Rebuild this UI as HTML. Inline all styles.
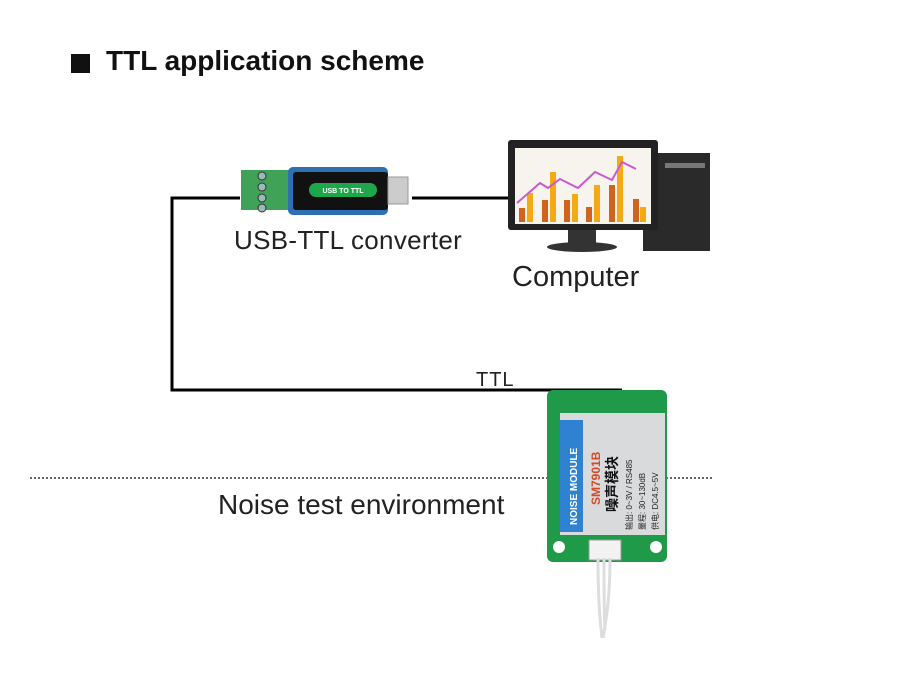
<!DOCTYPE html>
<html><head><meta charset="utf-8"><style>
body{margin:0;width:900px;height:673px;background:#fff;position:relative;overflow:hidden;font-family:"Liberation Sans","Noto Sans CJK SC",sans-serif}
.t{position:absolute;white-space:nowrap;color:#111}
</style></head><body>
<div style="position:absolute;left:71px;top:54px;width:19px;height:19px;background:#111"></div>
<div class="t" style="left:106px;top:45px;font-size:28px;font-weight:bold">TTL application scheme</div>
<svg width="900" height="673" style="position:absolute;left:0;top:0">
<g stroke="#000" stroke-width="3" fill="none">
<polyline points="240,198 172,198 172,390 622,390"/>
<line x1="412" y1="198" x2="510" y2="198"/>
</g>
<line x1="30" y1="478" x2="712" y2="478" stroke="#333" stroke-width="1.5" stroke-dasharray="2,2"/>
<rect x="241" y="170" width="48" height="40" fill="#3fa257"/>
<g fill="#9bb" stroke="#333" stroke-width="1"><circle cx="262" cy="176" r="4"/><circle cx="262" cy="187" r="4"/><circle cx="262" cy="198" r="4"/><circle cx="262" cy="208" r="4"/></g>
<rect x="288" y="167" width="100" height="48" rx="5" fill="#2f6fb3"/>
<rect x="293" y="172" width="95" height="38" rx="3" fill="#111"/>
<rect x="309" y="183" width="68" height="14" rx="7" fill="#1ea64a"/>
<text x="343" y="193" font-size="7" fill="#fff" text-anchor="middle" font-weight="bold">USB TO TTL</text>
<rect x="388" y="177" width="20" height="27" fill="#ccc" stroke="#999"/>
<rect x="643" y="153" width="67" height="98" fill="#2a2a2a"/>
<rect x="665" y="163" width="40" height="5" fill="#777"/>
<rect x="508" y="140" width="150" height="90" rx="3" fill="#222"/>
<rect x="515" y="148" width="136" height="76" fill="#f7f4ee"/>
<g fill="#d0641c"><rect x="519" y="208" width="6" height="14"/><rect x="542" y="200" width="6" height="22"/><rect x="564" y="200" width="6" height="22"/><rect x="586" y="207" width="6" height="15"/><rect x="609" y="185" width="6" height="37"/><rect x="633" y="199" width="6" height="23"/></g>
<g fill="#f5a914"><rect x="527" y="193" width="6" height="29"/><rect x="550" y="172" width="6" height="50"/><rect x="572" y="194" width="6" height="28"/><rect x="594" y="185" width="6" height="37"/><rect x="617" y="156" width="6" height="66"/><rect x="640" y="207" width="6" height="15"/></g>
<polyline points="517,203 540,183 548,188 560,179 578,188 595,172 612,180 622,162 636,169" stroke="#c85ad0" stroke-width="2" fill="none"/>
<rect x="568" y="230" width="28" height="14" fill="#333"/>
<ellipse cx="582" cy="247" rx="35" ry="5" fill="#333"/>
<rect x="547" y="390" width="120" height="172" rx="6" fill="#1f9a48"/>
<circle cx="559" cy="547" r="6" fill="#fff"/><circle cx="656" cy="547" r="6" fill="#fff"/>
<rect x="560" y="413" width="105" height="122" fill="#d9dadc"/>
<rect x="560" y="420" width="23" height="112" fill="#2f82d0"/>
<text transform="translate(577,525) rotate(-90)" font-size="10" fill="#fff" font-weight="bold">NOISE MODULE</text>
<text transform="translate(600,505) rotate(-90)" font-size="12" fill="#d24a2a" font-weight="bold">SM7901B</text>
<text transform="translate(617,512) rotate(-90)" font-size="14" fill="#111" font-weight="bold">噪声模块</text>
<text transform="translate(632,530) rotate(-90)" font-size="8" fill="#222">输出: 0~3V / RS485</text>
<text transform="translate(645,530) rotate(-90)" font-size="8" fill="#222">量程: 30~130dB</text>
<text transform="translate(658,530) rotate(-90)" font-size="8" fill="#222">供电: DC4.5~5V</text>
<rect x="589" y="540" width="32" height="20" fill="#f2f2f2" stroke="#999"/>
<path d="M598 558 C598 600 600 620 602 638 M604 558 C604 600 604 615 605 630 M610 558 C610 600 606 620 603 638" stroke="#ddd" stroke-width="3" fill="none"/>
</svg>
<div class="t" style="left:234px;top:225px;font-size:26px;color:#222;letter-spacing:0.3px">USB-TTL converter</div>
<div class="t" style="left:512px;top:261px;font-size:29px;color:#222">Computer</div>
<div class="t" style="left:476px;top:369px;font-size:20px;color:#222;letter-spacing:1px">TTL</div>
<div class="t" style="left:218px;top:489px;font-size:28px;color:#222">Noise test environment</div>
</body></html>
